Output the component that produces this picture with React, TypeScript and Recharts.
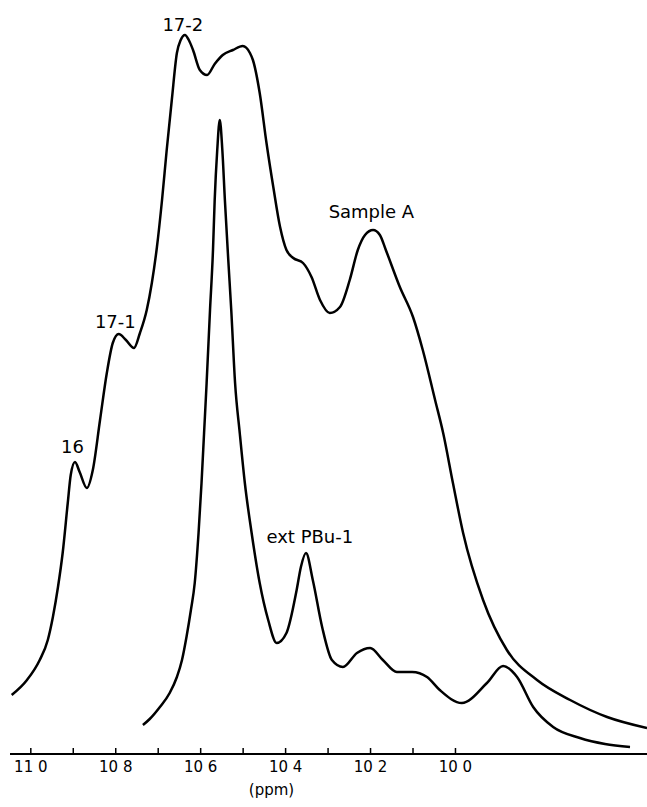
import React from "react";
import { LineChart, Line, XAxis, YAxis, ReferenceDot, ReferenceLine } from "recharts";

// Sample A trace (ppm, arbitrary intensity)
const SAMPLE_A_PPM = [
  110.45, 110.09, 109.79, 109.6, 109.48, 109.36, 109.25, 109.13, 109.06, 108.96,
  108.85, 108.68, 108.54, 108.37, 108.21, 108.07, 107.93, 107.76, 107.57, 107.43,
  107.27, 107.15, 107.03, 106.91, 106.8, 106.68, 106.56, 106.47, 106.37, 106.28,
  106.18, 106.02, 105.85, 105.67, 105.48, 105.24, 105.01, 104.84, 104.77, 104.61,
  104.45, 104.29, 104.13, 103.98, 103.82, 103.59, 103.39, 103.19, 102.96, 102.72,
  102.49, 102.3, 102.13, 101.94, 101.78, 101.64, 101.31, 101.0, 100.77, 100.48,
  100.29, 100.06, 99.82, 99.35, 98.79, 98.08, 97.3, 96.43, 95.49,
];
const SAMPLE_A_INT = [
  59, 74, 94, 114, 137, 167, 201, 251, 279, 292,
  282, 266, 284, 334, 381, 411, 420, 414, 406, 421,
  444, 471, 507, 554, 604, 654, 701, 714, 719, 714,
  704, 684, 679, 690, 699, 704, 708, 701, 694, 661,
  611, 567, 527, 504, 496, 491, 477, 454, 441, 447,
  474, 504, 519, 524, 519, 504, 467, 437, 404, 354,
  321, 271, 221, 154, 104, 74, 54, 37, 26,
];

// extracted PBu-1 trace
const EXT_PPM = [
  107.36, 107.2, 106.96, 106.73, 106.56, 106.44, 106.33, 106.23, 106.14, 106.05,
  105.98, 105.92, 105.86, 105.78, 105.71, 105.67, 105.61, 105.55, 105.49, 105.43,
  105.35, 105.28, 105.19, 105.08, 104.96, 104.8, 104.61, 104.41, 104.21, 103.98,
  103.74, 103.64, 103.52, 103.36, 103.14, 102.91, 102.65, 102.32, 102.01, 101.71,
  101.38, 101.02, 100.67, 100.37, 99.85, 99.26, 98.88, 98.55, 98.17, 97.7,
  97.07, 96.48, 95.89,
];
const EXT_INT = [
  29, 35, 47, 61, 77, 94, 118, 144, 171, 221,
  271, 321, 371, 444, 504, 554, 604, 634, 604, 554,
  494, 444, 371, 321, 271, 221, 171, 134, 111, 121,
  164, 187, 201, 174, 127, 94, 87, 101, 106, 94,
  82, 82, 77, 64, 51, 71, 88, 77, 47, 27,
  16, 10, 7,
];

const MAJOR_TICKS = [110, 108, 106, 104, 102, 100];
const ALL_TICKS = [110, 109, 108, 107, 106, 105, 104, 103, 102, 101, 100];

const LABELS = [
  { text: "17-2", ppm: 106.42, y: 723 },
  { text: "17-1", ppm: 108.01, y: 426 },
  { text: "16", ppm: 109.02, y: 301 },
  { text: "Sample A", ppm: 101.98, y: 536 },
  { text: "ext PBu-1", ppm: 103.43, y: 211 },
];

const sampleA = SAMPLE_A_PPM.map((ppm, i) => ({ ppm, v: SAMPLE_A_INT[i] }));
const extPBu = EXT_PPM.map((ppm, i) => ({ ppm, v: EXT_INT[i] }));

const FONT = "'DejaVu Sans', sans-serif";

function formatPpm(v: number): string {
  const s = String(v);
  return `${s.slice(0, 2)} ${s.slice(2)}`;
}

function PpmTick(props: any) {
  const { x, y, payload } = props;
  const v = payload.value;
  if (!MAJOR_TICKS.includes(v)) return <g />;
  return (
    <text x={x} y={y + 18} textAnchor="middle" fontFamily={FONT} fontSize={15} fill="#000">
      {formatPpm(v)}
    </text>
  );
}

export default function App() {
  return (
    <div style={{ position: "absolute", left: 0, top: 0, width: 647, height: 807, background: "#fff" }}>
      <LineChart width={647} height={807} margin={{ top: 0, right: 0, left: 10, bottom: 0 }}>
        <XAxis
          type="number"
          dataKey="ppm"
          domain={[95.49, 110.49]}
          reversed
          ticks={ALL_TICKS}
          interval={0}
          height={53}
          tickSize={0}
          tickMargin={0}
          tickLine={false}
          tick={<PpmTick />}
          axisLine={{ stroke: "#000", strokeWidth: 2 }}
          allowDataOverflow
          label={{
            value: "(ppm)",
            position: "insideBottom",
            offset: 12,
            dx: -57,
            fontFamily: FONT,
            fontSize: 15,
            fill: "#000",
          }}
        />
        <YAxis hide domain={[0, 754]} allowDataOverflow />
        {ALL_TICKS.map((t) => (
          <ReferenceLine
            key={t}
            segment={[
              { x: t, y: 0 },
              { x: t, y: 6 },
            ]}
            stroke="#000"
            strokeWidth={1.5}
          />
        ))}
        <Line
          data={sampleA}
          dataKey="v"
          type="monotone"
          stroke="#000"
          strokeWidth={2.5}
          dot={false}
          isAnimationActive={false}
        />
        <Line
          data={extPBu}
          dataKey="v"
          type="monotone"
          stroke="#000"
          strokeWidth={2.5}
          dot={false}
          isAnimationActive={false}
        />
        {LABELS.map((l) => (
          <ReferenceDot
            key={l.text}
            x={l.ppm}
            y={l.y}
            r={0}
            fill="none"
            stroke="none"
            label={{
              value: l.text,
              position: "top",
              offset: 0,
              fontFamily: FONT,
              fontSize: 18,
              fill: "#000",
            }}
          />
        ))}
      </LineChart>
    </div>
  );
}
